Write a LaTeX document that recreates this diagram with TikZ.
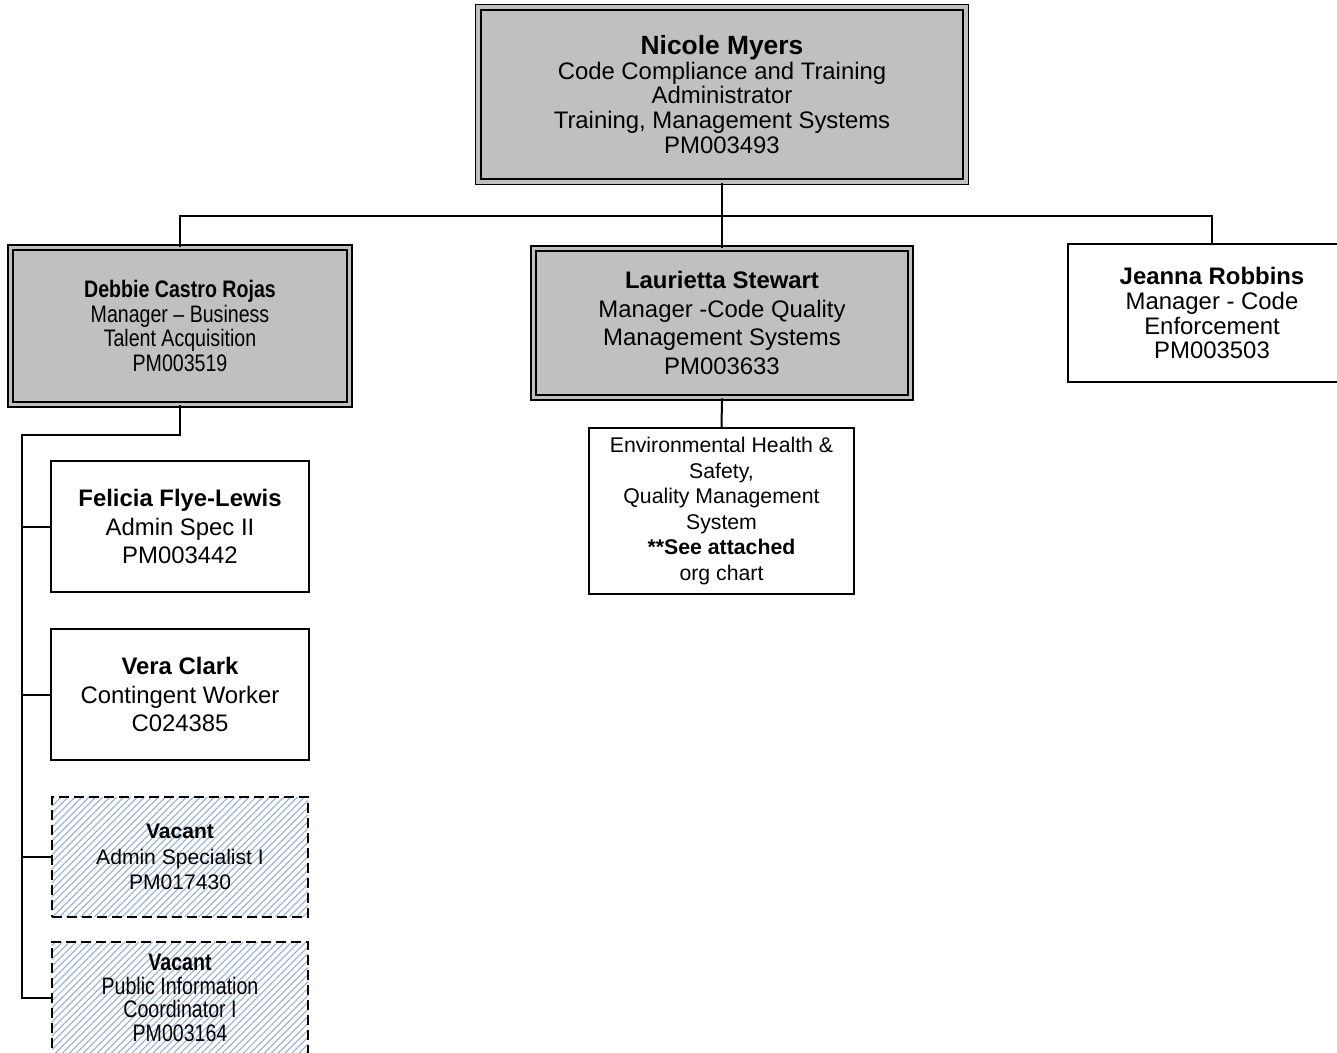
\documentclass[tikz,border=0pt]{standalone}
\usepackage{fontspec}
\setmainfont{Liberation Sans}
\newfontfamily\narrowfont{Liberation Sans}[FakeStretch=0.82]
\usepackage{tikz}
\usetikzlibrary{patterns.meta}
\definecolor{boxgray}{HTML}{C0C0C0}
\definecolor{hatchblue}{HTML}{94ABD3}

\begin{document}
\begin{tikzpicture}[x=0.02cm, y=-0.02cm,
  headbox/.style={rectangle, fill=boxgray, draw=black, line width=0.035cm, double=boxgray,
    double distance=0.07cm, align=center, inner sep=0pt, font=\fontsize{13.6}{14}\selectfont},
  staffbox/.style={rectangle, fill=white, draw=black, line width=0.03cm, align=center,
    inner sep=0pt, font=\fontsize{13.6}{14.2}\selectfont},
  vacantbox/.style={rectangle, draw=black, line width=0.035cm, dash pattern=on 0.2cm off 0.1cm,
    pattern={Lines[angle=45, distance=2.8pt, line width=0.6pt]}, pattern color=hatchblue,
    align=center, inner sep=0pt},
  link/.style={draw=black, line width=0.04cm}
]
  \useasboundingbox (0,0) rectangle (1337,1053);
  \clip (0,0) rectangle (1337,1053);

  \node[headbox, minimum width=9.76cm, minimum height=3.5cm] (nm) at (722,94.5)
    {{\fontsize{15}{14}\selectfont\textbf{Nicole Myers}}\\Code Compliance and Training\\Administrator\\Training, Management Systems\\PM003493};
  \node[headbox, minimum width=6.78cm, minimum height=3.14cm, font=\narrowfont\fontsize{13.6}{13.9}\selectfont]
    (dcr) at (180,326) {\textbf{Debbie Castro Rojas}\\Manager – Business\\Talent Acquisition\\PM003519};
  \node[headbox, minimum width=7.54cm, minimum height=2.98cm, font=\fontsize{13.6}{16.4}\selectfont]
    (ls) at (722,323) {\textbf{Laurietta Stewart}\\Manager -Code Quality\\Management Systems\\PM003633};
  \node[staffbox, minimum width=5.76cm, minimum height=2.76cm] (jr) at (1212,313)
    {\textbf{Jeanna Robbins}\\Manager - Code\\Enforcement\\PM003503};

  \node[staffbox, minimum width=5.3cm, minimum height=3.32cm, font=\fontsize{12.1}{14.6}\selectfont]
    (ehs) at (721.5,511) {Environmental Health \&\\Safety,\\Quality Management\\System\\\textbf{**See attached}\\org chart};

  \node[staffbox, minimum width=5.16cm, minimum height=2.62cm, font=\fontsize{13.6}{16.2}\selectfont]
    (ffl) at (180,526.5) {\textbf{Felicia Flye-Lewis}\\Admin Spec II\\PM003442};
  \node[staffbox, minimum width=5.16cm, minimum height=2.62cm, font=\fontsize{13.6}{16.2}\selectfont]
    (vc) at (180,694.5) {\textbf{Vera Clark}\\Contingent Worker\\C024385};
  \node[vacantbox, minimum width=5.12cm, minimum height=2.4cm, font=\fontsize{12}{14.5}\selectfont]
    (vac1) at (180,857) {\textbf{Vacant}\\Admin Specialist I\\PM017430};
  \node[vacantbox, minimum width=5.12cm, minimum height=2.24cm, font=\narrowfont\fontsize{13.6}{13.4}\selectfont]
    (vac2) at (180,998) {\textbf{Vacant}\\Public Information\\Coordinator I\\PM003164};

  \coordinate (bus) at (722,216);
  \coordinate (spine) at (22,435);

  \draw[link] (nm.south) -- (ls.north);
  \draw[link] (dcr.north) |- (bus) -| (jr.north);
  \draw[link] (ls.south) -- (ehs.north);
  \draw[link] (dcr.south) |- (spine) |- (vac2.west);
  \draw[link] (spine) |- (ffl.west);
  \draw[link] (spine) |- (vc.west);
  \draw[link] (spine) |- (vac1.west);
\end{tikzpicture}
\end{document}
